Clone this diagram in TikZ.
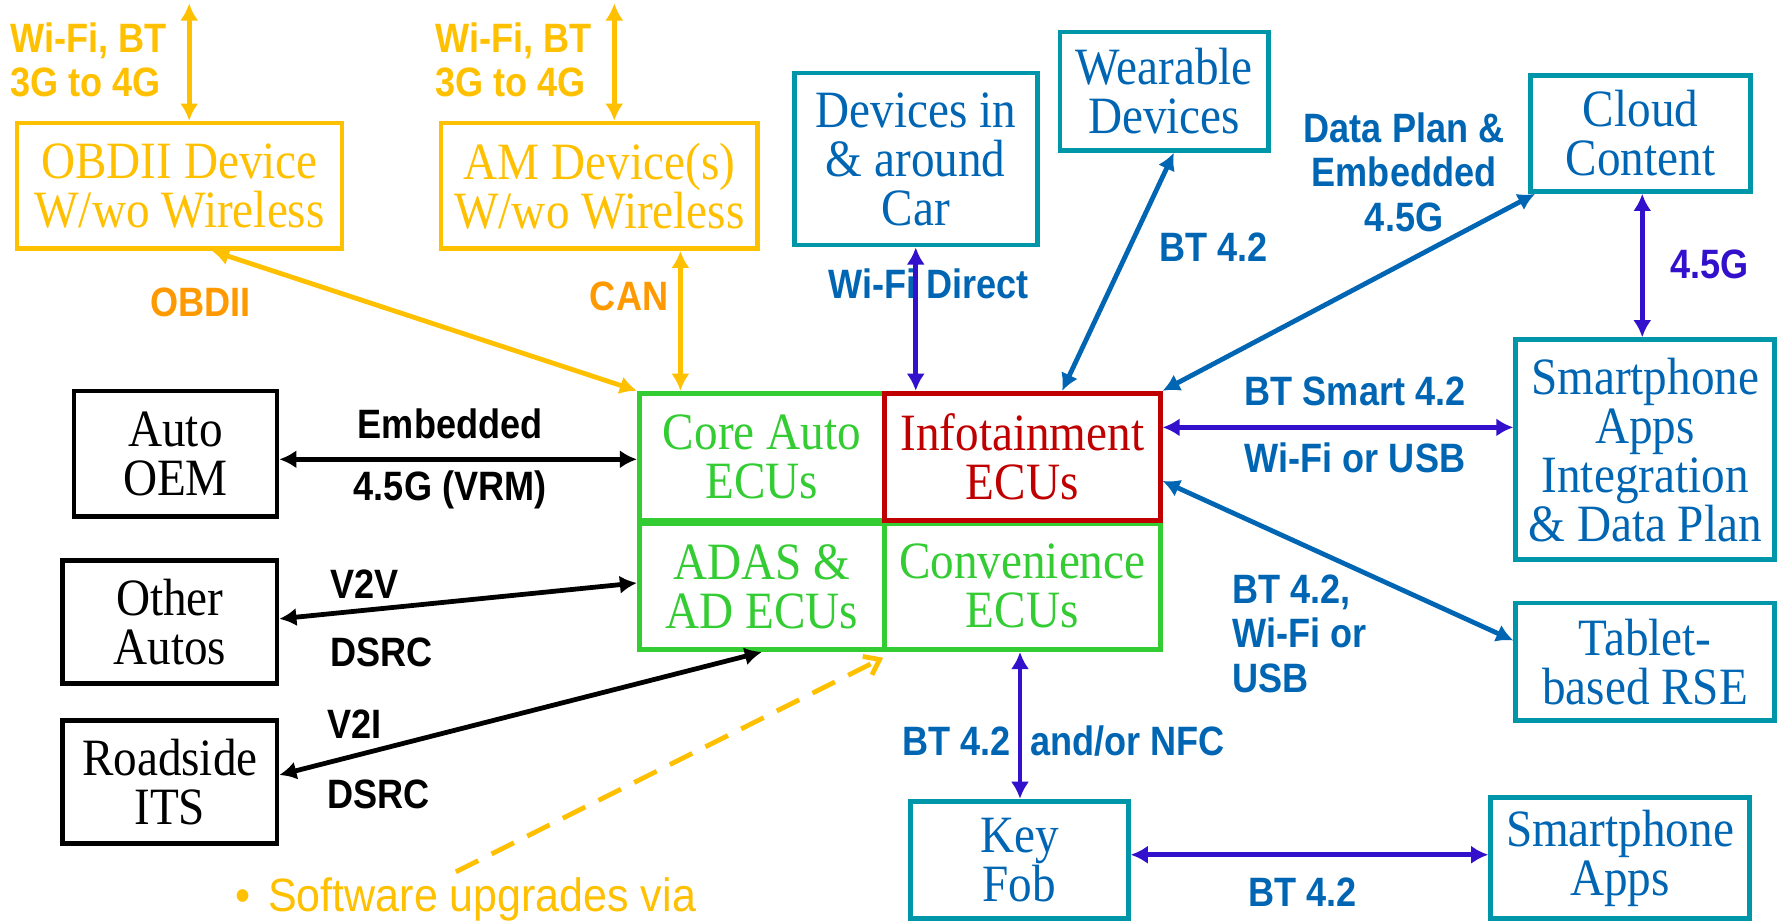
\documentclass[tikz,border=0pt]{standalone}
\usepackage{fontspec}
\setmainfont{Liberation Serif}[FakeStretch=0.9]
\newfontfamily\labfont{Liberation Sans}[FakeStretch=0.88]
\newfontfamily\swfont{Liberation Sans}[FakeStretch=0.92]
\usetikzlibrary{arrows.meta}
\definecolor{gold}{RGB}{255,192,0}
\definecolor{orng}{RGB}{255,153,0}
\definecolor{grn}{RGB}{51,204,51}
\definecolor{rd}{RGB}{192,0,0}
\definecolor{teal2}{RGB}{0,150,170}
\definecolor{blu}{RGB}{0,102,179}
\definecolor{vio}{RGB}{51,17,204}
\tikzset{
  box/.style={draw, line width=4.2pt, inner sep=0pt, align=center,
    font=\fontsize{46}{43}\selectfont},
  gbox/.style={box, draw=gold, text=gold},
  tbox/.style={box, draw=teal2, text=blu},
  kbox/.style={box, draw=black, text=black},
  ecu/.style={box, draw=grn, text=grn},
  lab/.style={font=\labfont\bfseries\fontsize{36}{39}\selectfont, inner sep=0pt, align=center},
  arr/.style={line width=4.2pt, {Latex[length=15pt,width=16pt]}-{Latex[length=15pt,width=16pt]}},
}
\begin{document}
\begin{tikzpicture}[x=1pt,y=-1pt]
\useasboundingbox[fill=white] (0,0) rectangle (1568,809);

% gold devices
\node[gbox, minimum width=285pt, minimum height=110pt] (obd) at (157.5,163) {OBDII Device\\W/wo Wireless};
\node[gbox, minimum width=278pt, minimum height=110pt] (am) at (526,163) {AM Device(s)\\W/wo Wireless};
\node[lab, text=gold, align=left, anchor=west] (l1) at (9,52.5) {Wi-Fi, BT\\3G to 4G};
\node[lab, text=gold, align=left, anchor=west] (l2) at (382,52.5) {Wi-Fi, BT\\3G to 4G};
\node[lab, text=orng] (lobd) at (176,265) {OBDII};
\node[lab, text=orng] (lcan) at (552,260) {CAN};

% black boxes
\node[kbox, minimum width=178pt, minimum height=110pt] (oem) at (154,398) {Auto\\OEM};
\node[kbox, minimum width=188pt, minimum height=108pt] (oth) at (149,546) {Other\\Autos};
\node[kbox, minimum width=188pt, minimum height=108pt] (rsd) at (149,686) {Roadside\\ITS};
\node[lab] (lemb) at (395,372) {Embedded};
\node[lab] (lvrm) at (395,430) {4.5G (VRM)};
\node[lab, anchor=west] (lv2v) at (290,513) {V2V};
\node[lab, anchor=west] (lds1) at (290,572) {DSRC};
\node[lab, anchor=west] (lv2i) at (287,635) {V2I};
\node[lab, anchor=west] (lds2) at (287,697) {DSRC};

% ECU grid
\node[ecu, minimum width=215pt, minimum height=112pt] (core) at (668.5,401) {Core Auto\\ECUs};
\node[ecu, minimum width=215pt, minimum height=111pt] (adas) at (668.5,514.5) {ADAS \&\\AD ECUs};
\node[ecu, minimum width=242pt, minimum height=111pt] (conv) at (897,514.5) {Convenience\\ECUs};
\node[box, draw=rd, text=rd, minimum width=242pt, minimum height=112pt] (info) at (897,401) {Infotainment\\ECUs};

% teal boxes
\node[tbox, minimum width=213pt, minimum height=151pt] (dev) at (803.5,139.5) {Devices in\\\& around\\Car};
\node[tbox, minimum width=183pt, minimum height=104pt] (wear) at (1021.5,80) {Wearable\\Devices};
\node[tbox, minimum width=193pt, minimum height=102pt] (cloud) at (1439.5,117) {Cloud\\Content};
\node[tbox, minimum width=227pt, minimum height=193pt] (sapi) at (1443.5,394.5) {Smartphone\\Apps\\Integration\\\& Data Plan};
\node[tbox, minimum width=227pt, minimum height=103pt] (tab) at (1443.5,580.5) {Tablet-\\based RSE};
\node[tbox, minimum width=191pt, minimum height=103pt] (key) at (894.5,754.5) {Key\\Fob};
\node[tbox, minimum width=227pt, minimum height=106pt] (sapp) at (1421.5,753) {Smartphone\\Apps};

% blue labels
\node[lab, text=blu] (lwfd) at (815,249) {Wi-Fi Direct};
\node[lab, text=blu] (lbtw) at (1065,217) {BT 4.2};
\node[lab, text=blu] (ldp) at (1232,151) {Data Plan \&\\Embedded\\4.5G};
\node[lab, text=vio] (l45) at (1500,232) {4.5G};
\node[lab, text=blu] (lbts) at (1189,343) {BT Smart 4.2};
\node[lab, text=blu] (lwou) at (1189,402) {Wi-Fi or USB};
\node[lab, text=blu, align=left, anchor=west] (lbtt) at (1081,556) {BT 4.2,\\Wi-Fi or\\USB};
\node[lab, text=blu, anchor=east] (lbtk) at (887,650) {BT 4.2};
\node[lab, text=blu, anchor=west] (lnfc) at (904,650) {and/or NFC};
\node[lab, text=blu] (lbtf) at (1143,783) {BT 4.2};

% software upgrades
\node[font=\swfont\fontsize{41}{44}\selectfont, text=gold, anchor=base west, inner sep=0pt] (sw) at (206,800) {\textbullet\hspace{16pt}Software upgrades via};

% gold connectors
\coordinate (wob) at (166,3);
\coordinate (wam) at (539,3);
\draw[arr, gold] (wob) -- (wob |- obd.north);
\draw[arr, gold] (wam) -- (wam |- am.north);
\draw[arr, gold] ([xshift=28.5pt]obd.south) -- (core.north west);
\draw[arr, gold] ([xshift=71pt]am.south) -- ([xshift=71pt]am.south |- core.north);
\coordinate (swtail) at (400,765);
\draw[gold, line width=4.2pt, dash pattern=on 22pt off 13pt, -{Straight Barb[length=12pt,width=18pt]}] (swtail) -- ([shift={(1pt,-5pt)}]conv.south west);

% black connectors
\draw[arr, black] ([yshift=-5pt]oem.east) -- ([yshift=-5pt]oem.east -| core.west);
\draw[arr, black] ([yshift=3pt]oth.east) -- ([yshift=3pt]adas.west);
\draw[arr, black] ([yshift=6pt]rsd.east) -- (adas.south);

% blue / violet connectors
\draw[arr, vio] (dev.south) -- (dev.south |- info.north);
\draw[arr, blu] ([xshift=8.5pt]wear.south) -- ([xshift=35pt]info.north);
\draw[arr, blu] ([xshift=6pt]cloud.south west) -- (info.north east);
\draw[arr, vio] ([xshift=1.5pt]cloud.south) -- ([xshift=1.5pt]cloud.south |- sapi.north);
\draw[arr, vio] ([yshift=26pt]info.east) -- ([yshift=26pt]info.east -| sapi.west);
\draw[arr, blu] ([yshift=-21pt]info.east) -- ([yshift=18.5pt]tab.west);
\draw[arr, vio] ([xshift=-2pt]conv.south) -- ([xshift=-2pt]conv.south |- key.north);
\draw[arr, vio] ([yshift=4.5pt]key.east) -- ([yshift=4.5pt]key.east -| sapp.west);
\end{tikzpicture}
\end{document}
